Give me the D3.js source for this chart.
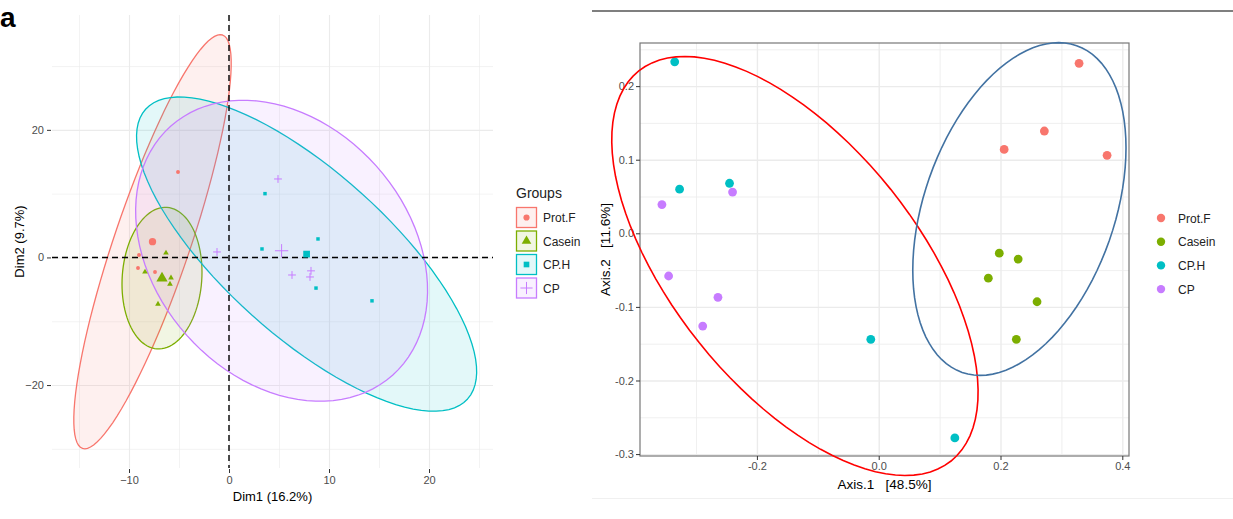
<!DOCTYPE html>
<html>
<head>
<meta charset="utf-8">
<script src="https://cdn.jsdelivr.net/npm/d3@7"></script>
<style>
  body { margin: 0; background: #fff; }
  svg { display: block; font-family: "Liberation Sans", Arial, sans-serif; }
  .grid line { stroke: #ebebeb; }
  .grid path { display: none; }
  .tick-lab text { fill: #4d4d4d; font-size: 11px; }
  .tick-lab path { display: none; }
  .tick-lab line { stroke: #333; }
</style>
</head>
<body>
<div id="chart"></div>
<script>
// groups + colours
const groups = ["Prot.F", "Casein", "CP.H", "CP"];
const groupColors = ["#F8766D", "#7CAE00", "#00BFC4", "#C77CFF"];

// panel a (left): PCA individuals, Dim1 / Dim2
const pcaProtF  = [[-5.1, 13.4], [-9.1, -1.65], [-7.4, -2.27], [-9.0, 0.39]];
const pcaCasein = [[-6.3, 0.71], [-8.4, -2.27], [-5.8, -3.2], [-5.9, -4.16], [-7.1, -7.3]];
const pcaCPH    = [[3.6, 10.0], [3.3, 1.33], [8.9, 2.9], [8.7, -4.8], [14.3, -6.8]];
const pcaCP     = [[-1.2, 0.86], [4.9, 12.3], [6.3, -2.75], [8.2, -2.1], [8.1, -3.06]];
// confidence ellipses as two conjugate half-axes (data units), centred on group mean
const pcaEllipseU = [[7.0, 32.4], [0, 11.06], [16.1, -22.7], [11.1, -19.5]];
const pcaEllipseV = [[3.6, -1.91], [4.0, 0.94], [-5.48, -9.55], [-9.48, -13.27]];
const pcaXTicks = [-10, 0, 10, 20];
const pcaYTicks = [-20, 0, 20];
const pcaXMinor = [-15, -5, 5, 15, 25];
const pcaYMinor = [-30, -10, 10, 30];

// right panel: PCoA, Axis.1 / Axis.2
const pcoaProtF  = [[0.329, 0.231], [0.272, 0.139], [0.206, 0.114], [0.375, 0.106]];
const pcoaCasein = [[0.198, -0.027], [0.229, -0.035], [0.180, -0.061], [0.260, -0.093], [0.226, -0.144]];
const pcoaCPH    = [[-0.335, 0.233], [-0.327, 0.060], [-0.245, 0.068], [-0.013, -0.144], [0.125, -0.278]];
const pcoaCP     = [[-0.356, 0.039], [-0.240, 0.056], [-0.345, -0.058], [-0.264, -0.087], [-0.289, -0.126]];
const pcoaEllipseCenter = [[-0.1376, -0.0444], [0.231, 0.033]];
const pcoaEllipseU = [[0.2564, -0.265], [0.094, 0.222]];
const pcoaEllipseV = [[-0.1573, -0.1041], [0.1477, -0.0427]];
const pcoaEllipseColors = ["#ff0000", "#4272a2"];
const pcoaXTicks = [-0.2, 0.0, 0.2, 0.4];
const pcoaYTicks = [-0.3, -0.2, -0.1, 0.0, 0.1, 0.2];
const pcoaXMinor = [-0.3, -0.1, 0.1, 0.3];
const pcoaYMinor = [-0.25, -0.15, -0.05, 0.05, 0.15, 0.25];

const W = 1233, H = 519;
const svg = d3.select("#chart").append("svg").attr("width", W).attr("height", H);

const ellipsePts = (c, u, v) => d3.range(0, 101).map(i => {
  const t = i / 100 * 2 * Math.PI;
  return [c[0] + u[0] * Math.cos(t) + v[0] * Math.sin(t), c[1] + u[1] * Math.cos(t) + v[1] * Math.sin(t)];
});

// ---------------- left panel ----------------
const L = { left: 52, right: 493, top: 15, bottom: 468 };
const xL = d3.scaleLinear().domain([-17.7, 26.4]).range([L.left, L.right]);
const yL = d3.scaleLinear().domain([-33, 38]).range([L.bottom, L.top]);
const gL = svg.append("g");

// minor + major grid
gL.append("g").attr("class", "grid").attr("transform", `translate(0,${L.bottom})`)
  .call(d3.axisBottom(xL).tickValues(pcaXMinor).tickSize(-(L.bottom - L.top)).tickFormat(""))
  .selectAll("line").attr("stroke-width", 0.6);
gL.append("g").attr("class", "grid").attr("transform", `translate(${L.left},0)`)
  .call(d3.axisLeft(yL).tickValues(pcaYMinor).tickSize(-(L.right - L.left)).tickFormat(""))
  .selectAll("line").attr("stroke-width", 0.6);
gL.append("g").attr("class", "grid").attr("transform", `translate(0,${L.bottom})`)
  .call(d3.axisBottom(xL).tickValues(pcaXTicks).tickSize(-(L.bottom - L.top)).tickFormat(""))
  .selectAll("line").attr("stroke-width", 1.1);
gL.append("g").attr("class", "grid").attr("transform", `translate(${L.left},0)`)
  .call(d3.axisLeft(yL).tickValues(pcaYTicks).tickSize(-(L.right - L.left)).tickFormat(""))
  .selectAll("line").attr("stroke-width", 1.1);

// tick labels
gL.append("g").attr("class", "tick-lab").attr("transform", `translate(0,${L.bottom + 1})`)
  .call(d3.axisBottom(xL).tickValues(pcaXTicks).tickSize(4).tickPadding(3).tickFormat(d3.format("d")));
gL.append("g").attr("class", "tick-lab").attr("transform", `translate(${L.left - 1},0)`)
  .call(d3.axisLeft(yL).tickValues(pcaYTicks).tickSize(4).tickPadding(3).tickFormat(d3.format("d")));
gL.selectAll(".tick-lab text").attr("fill", "#666");

const pcaGroups = [pcaProtF, pcaCasein, pcaCPH, pcaCP];
const pcaMeans = pcaGroups.map(pts => [d3.mean(pts, d => d[0]), d3.mean(pts, d => d[1])]);
const lineL = d3.line().x(d => xL(d[0])).y(d => yL(d[1]));

// ellipses
pcaGroups.forEach((pts, i) => {
  gL.append("path")
    .attr("d", lineL(ellipsePts(pcaMeans[i], pcaEllipseU[i], pcaEllipseV[i])) + "Z")
    .attr("fill", groupColors[i]).attr("fill-opacity", 0.11)
    .attr("stroke", groupColors[i]).attr("stroke-width", 1.3);
});

// dashed origin lines
gL.append("line").attr("x1", L.left).attr("x2", L.right).attr("y1", yL(0)).attr("y2", yL(0))
  .attr("stroke", "#000").attr("stroke-width", 1.4).attr("stroke-dasharray", "6,4");
gL.append("line").attr("x1", xL(0)).attr("x2", xL(0)).attr("y1", L.top).attr("y2", L.bottom)
  .attr("stroke", "#000").attr("stroke-width", 1.4).attr("stroke-dasharray", "6,4");

// point shapes per group
const shapes = [d3.symbolCircle, d3.symbolTriangle, d3.symbolSquare, d3.symbolPlus];
function drawSymbol(g, i, x, y, size) {
  const p = g.append("path").attr("transform", `translate(${x},${y})`)
    .attr("d", d3.symbol().type(shapes[i]).size(size)());
  if (i === 3) p.attr("fill", "none").attr("stroke", groupColors[i]).attr("stroke-width", 1);
  else p.attr("fill", groupColors[i]);
  return p;
}
pcaGroups.forEach((pts, i) => {
  const small = [12, 14, 12, 22][i];
  const big = [42, 55, 45, 60][i];
  pts.forEach(d => drawSymbol(gL, i, xL(d[0]), yL(d[1]), small));
  drawSymbol(gL, i, xL(pcaMeans[i][0]), yL(pcaMeans[i][1]), big);
});

// axis titles
svg.append("text").attr("x", (L.left + L.right) / 2).attr("y", 501)
  .attr("text-anchor", "middle").attr("font-size", 13).text("Dim1 (16.2%)");
svg.append("text").attr("transform", `translate(24,${(L.top + L.bottom) / 2}) rotate(-90)`)
  .attr("text-anchor", "middle").attr("font-size", 13).text("Dim2 (9.7%)");

// panel label
svg.append("text").attr("x", 0).attr("y", 27).attr("font-size", 28).attr("font-weight", "bold").text("a");

// left legend
const legL = svg.append("g").attr("transform", "translate(516,0)");
legL.append("text").attr("x", 0).attr("y", 198).attr("font-size", 14).attr("fill", "#222").text("Groups");
groups.forEach((name, i) => {
  const cy = 217.5 + i * 23.5;
  legL.append("rect").attr("x", 0.5).attr("y", cy - 10).attr("width", 20).attr("height", 20)
    .attr("fill", groupColors[i]).attr("fill-opacity", 0.11)
    .attr("stroke", groupColors[i]).attr("stroke-width", 1.3);
  drawSymbol(legL, i, 10.5, cy, [30, 40, 32, 50][i]);
  legL.append("text").attr("x", 27).attr("y", cy + 4.5).attr("font-size", 12).attr("fill", "#222").text(name);
});

// ---------------- right panel ----------------
svg.append("line").attr("x1", 592).attr("x2", W).attr("y1", 11).attr("y2", 11)
  .attr("stroke", "#555").attr("stroke-width", 1.4);
svg.append("line").attr("x1", 592).attr("x2", W).attr("y1", 498.5).attr("y2", 498.5)
  .attr("stroke", "#f0f0f0").attr("stroke-width", 1);

const R = { left: 640, right: 1129, top: 43, bottom: 456 };
const xR = d3.scaleLinear().domain([-0.392, 0.411]).range([R.left, R.right]);
const yR = d3.scaleLinear().domain([-0.3026, 0.2586]).range([R.bottom, R.top]);
const gR = svg.append("g");

gR.append("g").attr("class", "grid").attr("transform", `translate(0,${R.bottom})`)
  .call(d3.axisBottom(xR).tickValues(pcoaXMinor).tickSize(-(R.bottom - R.top)).tickFormat(""))
  .selectAll("line").attr("stroke-width", 0.8);
gR.append("g").attr("class", "grid").attr("transform", `translate(${R.left},0)`)
  .call(d3.axisLeft(yR).tickValues(pcoaYMinor).tickSize(-(R.right - R.left)).tickFormat(""))
  .selectAll("line").attr("stroke-width", 0.8);
gR.append("g").attr("class", "grid").attr("transform", `translate(0,${R.bottom})`)
  .call(d3.axisBottom(xR).tickValues(pcoaXTicks).tickSize(-(R.bottom - R.top)).tickFormat(""))
  .selectAll("line").attr("stroke-width", 1.4);
gR.append("g").attr("class", "grid").attr("transform", `translate(${R.left},0)`)
  .call(d3.axisLeft(yR).tickValues(pcoaYTicks).tickSize(-(R.right - R.left)).tickFormat(""))
  .selectAll("line").attr("stroke-width", 1.4);

gR.append("rect").attr("x", R.left).attr("y", R.top)
  .attr("width", R.right - R.left).attr("height", R.bottom - R.top)
  .attr("fill", "none").attr("stroke", "#777").attr("stroke-width", 1.2);

gR.append("g").attr("class", "tick-lab").attr("transform", `translate(0,${R.bottom})`)
  .call(d3.axisBottom(xR).tickValues(pcoaXTicks).tickSize(4).tickPadding(2).tickFormat(d3.format(".1f")));
gR.append("g").attr("class", "tick-lab").attr("transform", `translate(${R.left},0)`)
  .call(d3.axisLeft(yR).tickValues(pcoaYTicks).tickSize(4).tickPadding(2).tickFormat(d3.format(".1f")));
gR.selectAll(".tick-lab text").text(function() { return this.textContent.replace("−", "-"); });

const pcoaGroups = [pcoaProtF, pcoaCasein, pcoaCPH, pcoaCP];
pcoaGroups.forEach((pts, i) => {
  gR.selectAll(null).data(pts).enter().append("circle")
    .attr("cx", d => xR(d[0])).attr("cy", d => yR(d[1])).attr("r", 4.4)
    .attr("fill", groupColors[i]);
});

const lineR = d3.line().x(d => xR(d[0])).y(d => yR(d[1]));
pcoaEllipseCenter.forEach((c, i) => {
  gR.append("path")
    .attr("d", lineR(ellipsePts(c, pcoaEllipseU[i], pcoaEllipseV[i])) + "Z")
    .attr("fill", "none").attr("stroke", pcoaEllipseColors[i]).attr("stroke-width", 1.6);
});

svg.append("text").attr("x", (R.left + R.right) / 2).attr("y", 489)
  .attr("text-anchor", "middle").attr("font-size", 13.5).style("white-space", "pre")
  .text("Axis.1   [48.5%]");
svg.append("text").attr("transform", `translate(610,${(R.top + R.bottom) / 2}) rotate(-90)`)
  .attr("text-anchor", "middle").attr("font-size", 13.5).style("white-space", "pre")
  .text("Axis.2   [11.6%]");

// right legend
const legR = svg.append("g").attr("transform", "translate(1161,0)");
groups.forEach((name, i) => {
  const cy = 218 + i * 23.7;
  legR.append("circle").attr("cx", 0).attr("cy", cy).attr("r", 4.2).attr("fill", groupColors[i]);
  legR.append("text").attr("x", 17).attr("y", cy + 4.5).attr("font-size", 12).attr("fill", "#222").text(name);
});
</script>
</body>
</html>
